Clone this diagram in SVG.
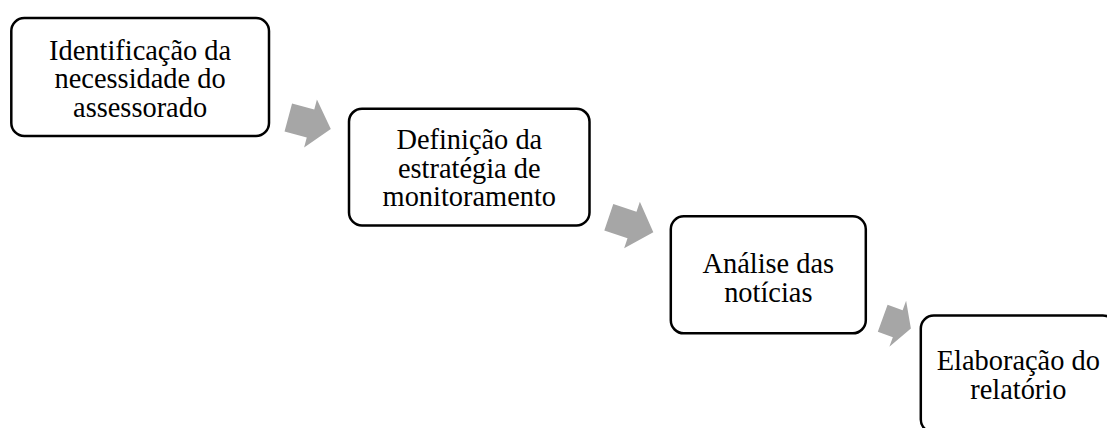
<svg xmlns="http://www.w3.org/2000/svg" width="1107" height="428" viewBox="0 0 1107 428">
  <style>
    .box { fill: #ffffff; stroke: #000000; stroke-width: 2.5; }
    .lbl { font-family: "Liberation Serif", "Times New Roman", serif; font-size: 28.4px; fill: #000000; text-anchor: middle; }
    .arrow { fill: #a6a6a6; stroke: none; }
  </style>
  <rect width="1107" height="428" fill="#ffffff"/>
  <g id="connectors">
    <polygon class="arrow" transform="translate(288.3,117.5) rotate(15)" points="0,-14.5 23,-14.5 23,-24.8 44,0 23,24.8 23,14.5 0,14.5"/>
    <polygon class="arrow" transform="translate(608.8,217.2) rotate(18.7)" points="0,-14 24.5,-14 24.5,-24.5 47,0 24.5,24.5 24.5,14 0,14"/>
    <polygon class="arrow" transform="translate(882.7,318.3) rotate(20)" points="0,-14.3 16,-14.3 16,-24.5 30,0 16,24.5 16,14.3 0,14.3"/>
  </g>
  <g id="node1">
    <rect class="box" x="11.3" y="18" width="257.7" height="118" rx="13" ry="13"/>
    <text class="lbl"><tspan x="140.1" y="59.5">Identificação da</tspan><tspan x="140.1" y="88">necessidade do</tspan><tspan x="140.1" y="116.5">assessorado</tspan></text>
  </g>
  <g id="node2">
    <rect class="box" x="349" y="108.7" width="240.5" height="116.8" rx="13" ry="13"/>
    <text class="lbl"><tspan x="469.3" y="149">Definição da</tspan><tspan x="469.3" y="177.5">estratégia de</tspan><tspan x="469.3" y="206">monitoramento</tspan></text>
  </g>
  <g id="node3">
    <rect class="box" x="670.8" y="216.3" width="195" height="117" rx="13" ry="13"/>
    <text class="lbl"><tspan x="768.3" y="273.3">Análise das</tspan><tspan x="768.3" y="301.8">notícias</tspan></text>
  </g>
  <g id="node4">
    <rect class="box" x="920.8" y="315.5" width="195" height="117" rx="13" ry="13"/>
    <text class="lbl"><tspan x="1018.3" y="370">Elaboração do</tspan><tspan x="1018.3" y="398.5">relatório</tspan></text>
  </g>
</svg>
